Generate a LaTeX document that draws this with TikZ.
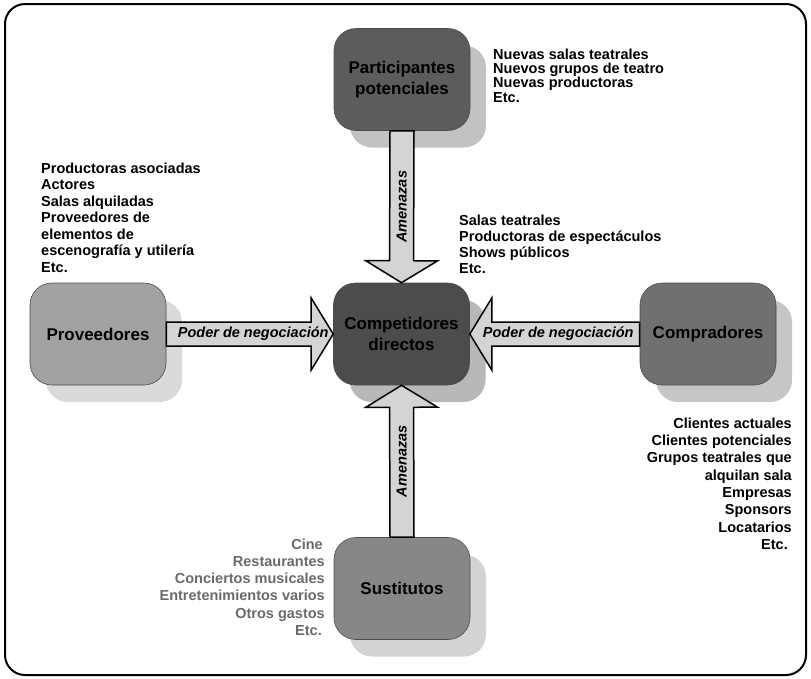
\documentclass[tikz,border=0pt]{standalone}
\usepackage{fontspec}
\setmainfont{Liberation Sans}
\usetikzlibrary{calc,shadows}

\definecolor{ppfill}{HTML}{5C5C5C}
\definecolor{ppshade}{HTML}{C2C2C2}
\definecolor{cdfill}{HTML}{4C4C4C}
\definecolor{cdshade}{HTML}{B8B8B8}
\definecolor{pvfill}{HTML}{A2A2A2}
\definecolor{pvshade}{HTML}{DADADA}
\definecolor{cpfill}{HTML}{707070}
\definecolor{cpshade}{HTML}{C6C6C6}
\definecolor{stfill}{HTML}{878787}
\definecolor{stshade}{HTML}{D3D3D3}
\definecolor{arrowgray}{HTML}{D4D4D4}
\definecolor{softtext}{HTML}{6A6A6A}

\tikzset{
  force/.style n args={2}{draw=black!70, line width=0.6pt, rounded corners=22pt,
    minimum width=136pt, minimum height=102pt, inner sep=2pt, align=center,
    fill=#1, font=\fontsize{17}{20.5}\selectfont\bfseries,
    drop shadow={shadow xshift=16pt, shadow yshift=-17pt, fill=#2, opacity=1}},
  itemlist/.style={inner sep=0pt, font=\fontsize{14.5}{#1}\selectfont\bfseries},
  arrowlabel/.style={inner sep=0pt, font=\fontsize{14.5}{16}\selectfont\bfseries\itshape},
  % wide block arrow from the start anchor to the target anchor
  fatarrow/.style={draw=black, line width=1.5pt, fill=arrowgray, line join=miter,
    to path={
      ($(\tikztostart)!12pt!90:(\tikztotarget)$)
      -- ($(\tikztotarget)!25.06pt!-28.61:(\tikztostart)$)
      -- ($(\tikztotarget)!42.19pt!-58.57:(\tikztostart)$)
      -- (\tikztotarget)
      -- ($(\tikztotarget)!42.19pt!58.57:(\tikztostart)$)
      -- ($(\tikztotarget)!25.06pt!28.61:(\tikztostart)$)
      -- ($(\tikztostart)!12pt!-90:(\tikztotarget)$)
      -- cycle}}
}

\begin{document}
\begin{tikzpicture}[x=1pt,y=-1pt]
  \useasboundingbox (0,0) rectangle (811,678);
  \draw[line width=2pt, rounded corners=20pt] (5,4) rectangle (806,675);

  % the five forces
  \node[force={ppfill}{ppshade}] (pp) at (402,79.5) {Participantes\\potenciales};
  \node[force={cdfill}{cdshade}] (cd) at (401.5,334) {Competidores\\directos};
  \node[force={pvfill}{pvshade}] (pv) at (98,334) {Proveedores};
  \node[force={cpfill}{cpshade}] (cp) at (708,334) {Compradores};
  \node[force={stfill}{stshade}] (st) at (402,588.5) {Sustitutos};

  % block arrows towards the centre
  \draw[fatarrow] (pp.south) to (cd.north);
  \draw[fatarrow] (st.north) to (cd.south);
  \draw[fatarrow] (pv.east) to (cd.west);
  \draw[fatarrow] (cp.west) to (cd.east);

  \path (pv.east) -- node[arrowlabel, xshift=3.5pt] {Poder de negociación} (cd.west);
  \path (cp.west) -- node[arrowlabel, xshift=3.5pt] {Poder de negociación} (cd.east);
  \path (pp.south) -- node[arrowlabel, rotate=90] {Amenazas} (cd.north);
  \path (st.north) -- node[arrowlabel, rotate=90] {Amenazas} (cd.south);

  % lists of examples
  \node[itemlist=14.3, anchor=north west, align=left] (lpp) at (493,48.5)
    {Nuevas salas teatrales\\Nuevos grupos de teatro\\Nuevas productoras\\Etc.};
  \node[itemlist=16.5, anchor=north west, align=left] (lpv) at (41,162.5)
    {Productoras asociadas\\Actores\\Salas alquiladas\\Proveedores de\\elementos de\\escenografía y utilería\\Etc.};
  \node[itemlist=16, anchor=north west, align=left] (lcd) at (459,214.5)
    {Salas teatrales\\Productoras de espectáculos\\Shows públicos\\Etc.};
  \node[itemlist=17.3, anchor=north east, align=right] (lcp) at (792,417.5)
    {Clientes actuales\\Clientes potenciales\\Grupos teatrales que\\alquilan sala\hspace*{1.5pt}\\Empresas\hspace*{4.5pt}\\Sponsors\hspace*{1.5pt}\\Locatarios\hspace*{1.5pt}\\Etc.\hspace*{4pt}};
  \node[itemlist=17.2, anchor=north east, align=right, text=softtext] (lst) at (325,538.5)
    {Cine\hspace*{2pt}\\Restaurantes\hspace*{1pt}\\Conciertos musicales\\Entretenimientos varios\\Otros gastos\hspace*{1pt}\\Etc.\hspace*{3pt}};
\end{tikzpicture}
\end{document}
